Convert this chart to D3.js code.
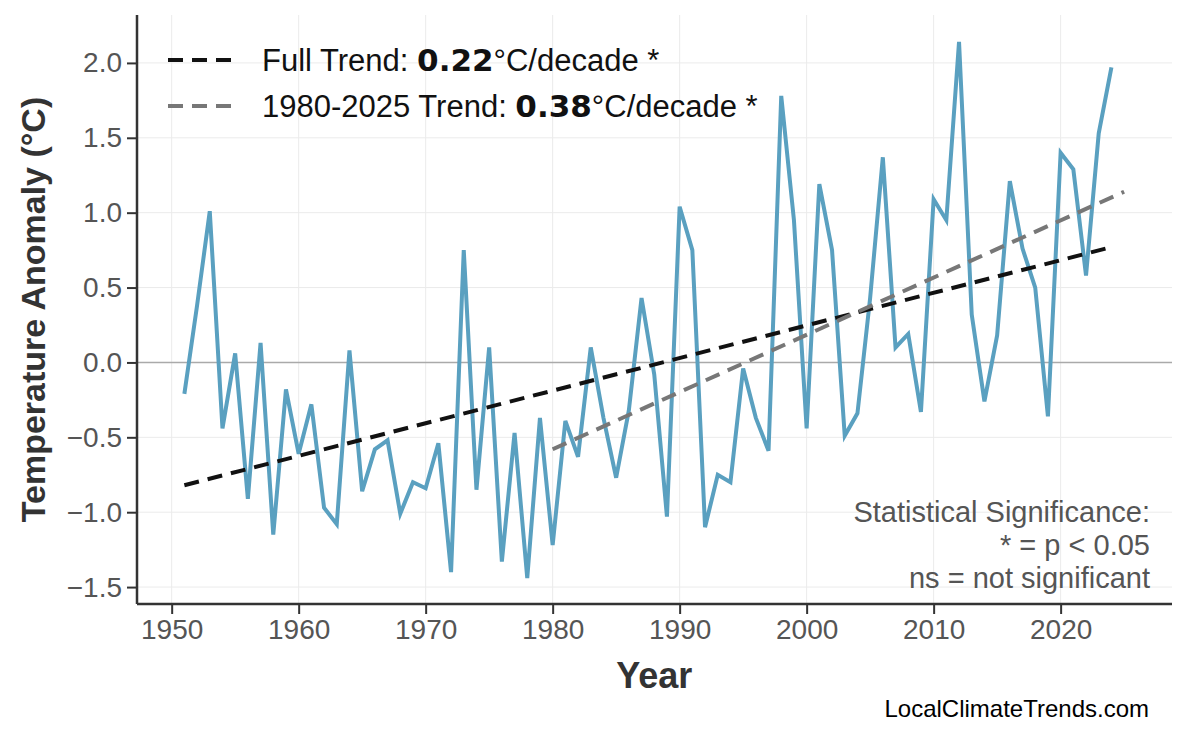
<!DOCTYPE html>
<html>
<head>
<meta charset="utf-8">
<script src="https://cdn.jsdelivr.net/npm/d3@7"></script>
<style>
  body { margin: 0; background: #fff; }
  text { font-family: Arial, "Liberation Sans", sans-serif; }
</style>
</head>
<body>
<div id="chart"></div>
<script>
// -------------------- Data --------------------
const years = d3.range(1951, 2025);
const anomalies = [
  -0.21, 0.38, 1.01, -0.44, 0.06, -0.91, 0.13, -1.15, -0.18, -0.61,
  -0.28, -0.97, -1.08, 0.08, -0.86, -0.58, -0.52, -1.01, -0.80, -0.84,
  -0.54, -1.40, 0.75, -0.85, 0.10, -1.33, -0.47, -1.44, -0.37, -1.22,
  -0.39, -0.63, 0.10, -0.37, -0.77, -0.32, 0.43, -0.08, -1.03, 1.04,
  0.75, -1.10, -0.75, -0.80, -0.04, -0.37, -0.59, 1.78, 0.95, -0.44,
  1.19, 0.75, -0.49, -0.34, 0.43, 1.37, 0.10, 0.19, -0.33, 1.09,
  0.95, 2.14, 0.32, -0.26, 0.18, 1.21, 0.76, 0.50, -0.36, 1.40,
  1.29, 0.58, 1.53, 1.97
];
const fullTrendYears = [1951, 2024];
const fullTrendValues = [-0.82, 0.77];
const recentTrendYears = [1980, 2025];
const recentTrendValues = [-0.58, 1.14];
const xTicks = [1950, 1960, 1970, 1980, 1990, 2000, 2010, 2020];
const yTicks = [-1.5, -1.0, -0.5, 0.0, 0.5, 1.0, 1.5, 2.0];

// -------------------- SVG --------------------
const width = 1186, height = 737;
const m = { left: 137, right: 14, top: 15, bottom: 133 };
const svg = d3.select("#chart").append("svg")
  .attr("width", width).attr("height", height);

const x = d3.scaleLinear().domain([1947.27, 2028.77]).range([m.left, width - m.right]);
const y = d3.scaleLinear().domain([-1.613, 2.32]).range([height - m.bottom, m.top]);

// grid
const grid = svg.append("g").attr("stroke", "#ebebeb").attr("stroke-width", 1);
xTicks.forEach(t => grid.append("line").attr("x1", x(t)).attr("x2", x(t)).attr("y1", m.top).attr("y2", height - m.bottom));
yTicks.forEach(t => grid.append("line").attr("x1", m.left).attr("x2", width - m.right).attr("y1", y(t)).attr("y2", y(t)));

// zero line
svg.append("line").attr("x1", m.left).attr("x2", width - m.right)
  .attr("y1", y(0)).attr("y2", y(0)).attr("stroke", "#aaa").attr("stroke-width", 1.5);

// series
const line = d3.line().x((d, i) => x(years[i])).y(d => y(d));
svg.append("path").datum(anomalies).attr("d", line)
  .attr("fill", "none").attr("stroke", "#5aa0c0").attr("stroke-width", 4)
  .attr("stroke-linejoin", "miter");

// trends
function trend(ys, vs, color) {
  svg.append("line")
    .attr("x1", x(ys[0])).attr("y1", y(vs[0]))
    .attr("x2", x(ys[1])).attr("y2", y(vs[1]))
    .attr("stroke", color).attr("stroke-width", 4).attr("stroke-dasharray", "15,9");
}
trend(fullTrendYears, fullTrendValues, "#111");
trend(recentTrendYears, recentTrendValues, "#777");

// axes
const xAxis = svg.append("g").attr("transform", `translate(0,${height - m.bottom})`)
  .call(d3.axisBottom(x).tickValues(xTicks).tickFormat(d3.format("d")).tickSize(10).tickPadding(5));
const yAxis = svg.append("g").attr("transform", `translate(${m.left},0)`)
  .call(d3.axisLeft(y).tickValues(yTicks).tickFormat(d => d3.format(".1f")(d).replace("-", "\u2212")).tickSize(10).tickPadding(5));
[xAxis, yAxis].forEach(a => {
  a.select(".domain").attr("stroke", "#333").attr("stroke-width", 2.5);
  a.selectAll(".tick line").attr("stroke", "#333").attr("stroke-width", 2);
  a.selectAll(".tick text").attr("fill", "#555").style("font-size", "28px");
});
yAxis.select(".domain").attr("d", `M0,${m.top}V${height - m.bottom}`);
xAxis.select(".domain").attr("d", `M${m.left},0H${width - m.right}`);

// axis titles
svg.append("text").attr("x", x(1988)).attr("y", 688).attr("text-anchor", "middle")
  .attr("fill", "#333").style("font-size", "36px").style("font-weight", "bold").text("Year");
svg.append("text").attr("transform", `translate(45,${(m.top + height - m.bottom) / 2}) rotate(-90)`)
  .attr("text-anchor", "middle").attr("fill", "#333").style("font-size", "34px").style("font-weight", "bold")
  .text("Temperature Anomaly (°C)");

// legend
const legend = [
  { color: "#111", label: "Full Trend: ", val: "0.22", y: 60 },
  { color: "#777", label: "1980-2025 Trend: ", val: "0.38", y: 106 }
];
legend.forEach(l => {
  svg.append("line").attr("x1", 168).attr("x2", 236).attr("y1", l.y).attr("y2", l.y)
    .attr("stroke", l.color).attr("stroke-width", 4).attr("stroke-dasharray", "15,9");
  const t = svg.append("text").attr("x", 262).attr("y", l.y + 11).style("font-size", "31px").attr("fill", "#111");
  t.append("tspan").text(l.label);
  t.append("tspan").style("font-weight", "bold").style("font-family", "'DejaVu Sans', sans-serif").text(l.val);
  t.append("tspan").text("°C/decade *");
});

// significance note
["Statistical Significance:", "* = p < 0.05", "ns = not significant"].forEach((s, i) => {
  svg.append("text").attr("x", 1150).attr("y", 522 + i * 33).attr("text-anchor", "end")
    .attr("fill", "#555").style("font-size", "29px").text(s);
});

svg.append("text").attr("x", 1149).attr("y", 717).attr("text-anchor", "end")
  .attr("fill", "#000").style("font-size", "24px").text("LocalClimateTrends.com");
</script>
</body>
</html>
